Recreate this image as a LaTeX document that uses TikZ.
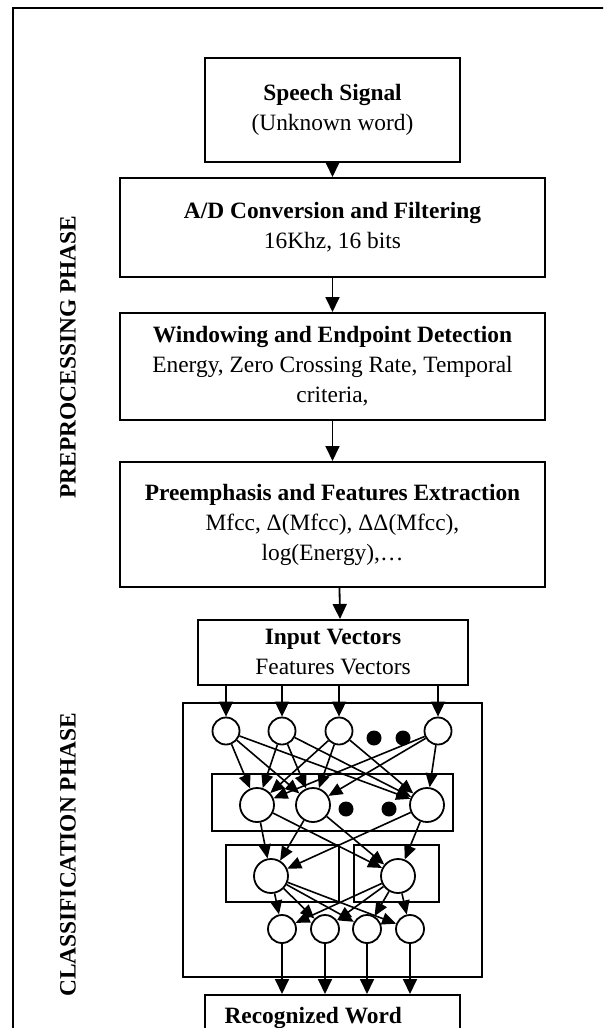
\documentclass[tikz,border=0pt]{standalone}
\usepackage{fontspec}
\setmainfont{Liberation Serif}
\usetikzlibrary{arrows.meta}

\newcommand{\boxsize}{\fontsize{23.4}{30}\selectfont}

\tikzset{
  stagebox/.style={draw, line width=2pt, align=center, inner sep=0pt, font=\boxsize},
  layerbox/.style={draw, line width=2pt},
  neuron/.style={draw, circle, line width=1.8pt, minimum size=27pt, inner sep=0pt, fill=white},
  blob/.style={circle, fill=black, minimum size=15pt, inner sep=0pt},
  flow/.style={line width=1.8pt, -{Triangle[length=15pt,width=14pt]}},
  link/.style={line width=1.6pt, -{Triangle[length=14pt,width=12pt]}},
  phase/.style={rotate=90, font=\boxsize\bfseries}
}

\begin{document}
\begin{tikzpicture}[x=1pt,y=-1pt]
    \useasboundingbox (0,0) rectangle (603,1028);
    \clip (0,0) rectangle (603,1028);

    % outer frame (cut by the page)
    \draw[line width=2pt] (13,1040) -- (13,8) -- (620,8);

    % phase labels
    \node[phase] (prelabel) at (68,357) {PREPROCESSING PHASE};
    \node[phase] (clslabel) at (68,855) {CLASSIFICATION PHASE};

    % preprocessing chain
    \node[stagebox, minimum width=255pt, minimum height=104pt] (signal) at (332.5,110) {\textbf{Speech Signal}\\(Unknown word)};
    \node[stagebox, minimum width=425pt, minimum height=99pt] (adc) at (332.5,227.5) {\textbf{A/D Conversion and Filtering}\\16Khz, 16 bits};
    \node[stagebox, minimum width=425pt, minimum height=107pt] (win) at (332.5,366.5) {\textbf{Windowing and Endpoint Detection}\\Energy, Zero Crossing Rate, Temporal\\criteria,};
    \node[stagebox, minimum width=425pt, minimum height=125pt] (pre) at (332.5,524.5) {\textbf{Preemphasis and Features Extraction}\\Mfcc, Δ(Mfcc), ΔΔ(Mfcc),\\log(Energy),…};
    \node[stagebox, minimum width=270pt, minimum height=65pt] (inp) at (333,652.5) {\textbf{Input Vectors}\\Features Vectors};

    \draw[flow] (signal) -- (adc);
    \draw[flow] (adc) -- (win);
    \draw[flow] (win) -- (pre);
    \draw[flow] ([xshift=7pt]pre.south) -- ([xshift=7pt]inp.north);

    % network frames
    \node[layerbox, minimum width=299pt, minimum height=274pt] (net) at (332.5,840) {};
    \node[layerbox, minimum width=241pt, minimum height=57pt] (hbox) at (332.5,802.5) {};
    \node[layerbox, minimum width=113pt, minimum height=57pt] (gboxl) at (282.5,873.5) {};
    \node[layerbox, minimum width=85pt, minimum height=57pt] (gboxr) at (396.5,873.5) {};

    % neurons
    \foreach \x [count=\k] in {226,282,339,438}
        \node[neuron] (i\k) at (\x,731) {};
    \node[blob] (idot1) at (374,738) {};
    \node[blob] (idot2) at (403,738) {};
    \foreach \x [count=\k] in {257,313,427}
        \node[neuron, minimum size=34pt] (h\k) at (\x,805) {};
    \node[blob] (hdot1) at (346,809) {};
    \node[blob] (hdot2) at (389,809) {};
    \node[neuron, minimum size=34pt] (g1) at (271,876) {};
    \node[neuron, minimum size=34pt] (g2) at (398,876) {};
    \foreach \x [count=\k] in {282,325,367,410}
        \node[neuron, minimum size=28pt] (o\k) at (\x,929) {};

    % output box
    \node[stagebox, minimum width=255pt, minimum height=100pt, anchor=north] (word) at (332.5,994) {};
    \node[font=\boxsize\bfseries, anchor=west] (wordtext) at (221,1018) {Recognized Word};

    % connections
    \foreach \k in {1,...,4}
        \draw[flow] (i\k |- inp.south) -- (i\k);
    \foreach \k in {1,...,4}
        \foreach \j in {1,2,3}
            \draw[link] (i\k) -- (h\j);
    \foreach \j in {1,2,3}
        \foreach \m in {1,2}
            \draw[link] (h\j) -- (g\m);
    \foreach \m in {1,2}
        \foreach \k in {1,...,4}
            \draw[link] (g\m) -- (o\k);
    \foreach \k in {1,...,4}
        \draw[flow] (o\k) -- (o\k |- word.north);
\end{tikzpicture}
\end{document}
